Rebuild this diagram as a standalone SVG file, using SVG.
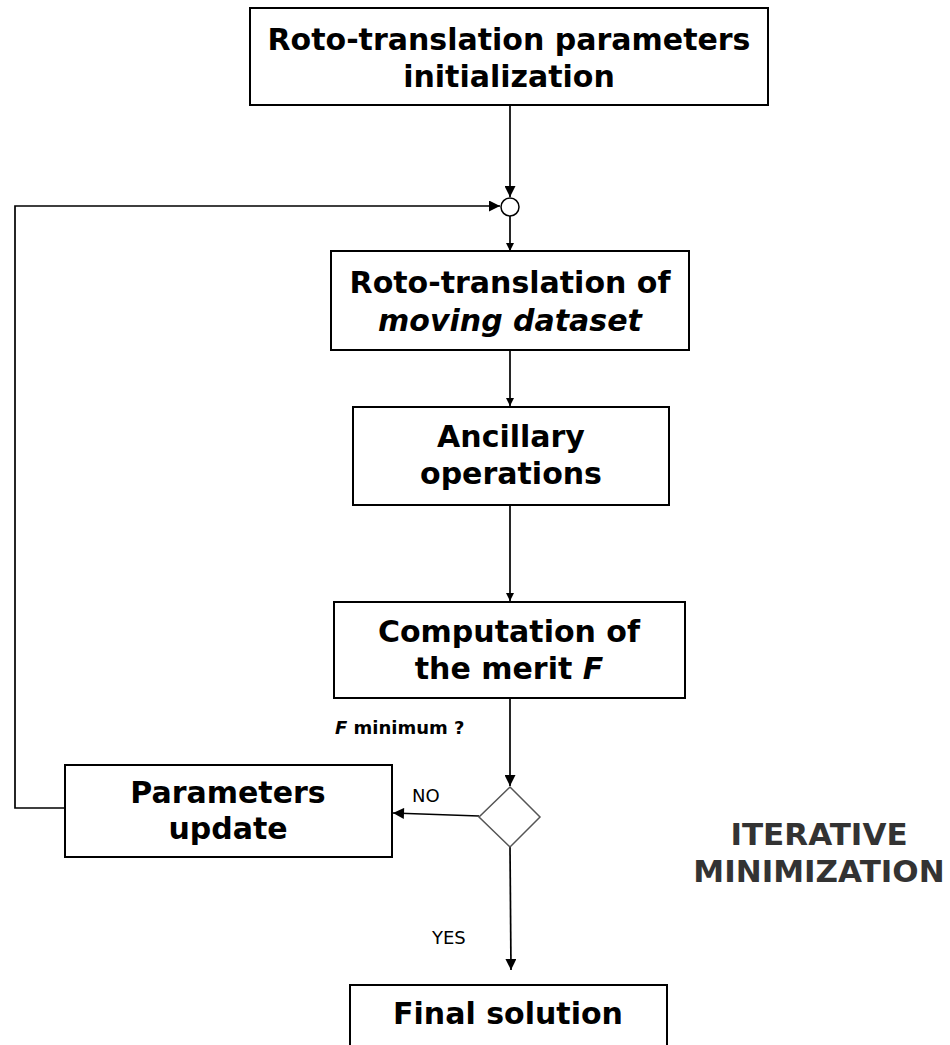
<svg xmlns="http://www.w3.org/2000/svg" width="950" height="1045" viewBox="0 0 950 1045">
<style>
.box{fill:#fff;stroke:#000;stroke-width:2}
.t{font-family:"DejaVu Sans",Verdana,sans-serif;font-weight:bold;font-size:30px;fill:#000;text-anchor:middle}
.l{fill:none;stroke:#000;stroke-width:1.7}
.lab{font-family:"DejaVu Sans",Verdana,sans-serif;font-size:18px;fill:#000}
.big{font-family:"DejaVu Sans",Verdana,sans-serif;font-weight:bold;font-size:31px;fill:#333;text-anchor:middle}
</style>
<defs>
<marker id="ah" viewBox="0 0 10 10" refX="10" refY="5" markerWidth="12" markerHeight="11" markerUnits="userSpaceOnUse" orient="auto"><path d="M0,0 L10,5 L0,10 z" fill="#000"/></marker>
<marker id="ahs" viewBox="0 0 10 10" refX="10" refY="5" markerWidth="9" markerHeight="8" markerUnits="userSpaceOnUse" orient="auto"><path d="M0,0 L10,5 L0,10 z" fill="#000"/></marker>
</defs>
<g id="connectors">
<line class="l" x1="510" y1="105" x2="510" y2="197" marker-end="url(#ah)"/>
<polyline class="l" points="65,808 15,808 15,206 500,206" marker-end="url(#ah)"/>
<line class="l" x1="510" y1="216" x2="510" y2="251" marker-end="url(#ahs)"/>
<line class="l" x1="510" y1="350" x2="510" y2="406" marker-end="url(#ahs)"/>
<line class="l" x1="510" y1="505" x2="510" y2="601" marker-end="url(#ahs)"/>
<line class="l" x1="510" y1="698" x2="510" y2="786" marker-end="url(#ah)"/>
<line class="l" x1="479" y1="816" x2="393" y2="813" marker-end="url(#ah)"/>
<line class="l" x1="510" y1="847" x2="511" y2="970" marker-end="url(#ah)"/>
<text class="lab" x="412" y="802">NO</text>
<text class="lab" x="432" y="944">YES</text>
<text x="335" y="734" style="font-family:'DejaVu Sans',Verdana,sans-serif;font-weight:bold;font-size:18px"><tspan font-style="italic">F</tspan> minimum ?</text>
</g>
<g id="n1"><rect class="box" x="250" y="8" width="518" height="97"/><text class="t" x="509" y="50">Roto-translation parameters</text><text class="t" x="509" y="87">initialization</text></g>
<g id="junction"><circle cx="510" cy="207" r="9" fill="#fff" stroke="#000" stroke-width="1.5"/></g>
<g id="n2"><rect class="box" x="331" y="251" width="358" height="99"/><text class="t" x="510" y="293">Roto-translation of</text><text class="t" x="510" y="331" font-style="italic">moving dataset</text></g>
<g id="n3"><rect class="box" x="353" y="407" width="316" height="98"/><text class="t" x="511" y="447">Ancillary</text><text class="t" x="511" y="484">operations</text></g>
<g id="n4"><rect class="box" x="334" y="602" width="351" height="96"/><text class="t" x="509" y="642">Computation of</text><text class="t" x="509" y="679">the merit <tspan font-style="italic">F</tspan></text></g>
<g id="decision"><polygon points="510,787 540,817 510,847 479,817" fill="#fff" stroke="#555" stroke-width="1.5"/></g>
<g id="n5"><rect class="box" x="65" y="765" width="327" height="92"/><text class="t" x="228" y="803">Parameters</text><text class="t" x="228" y="839">update</text></g>
<g id="n6"><rect class="box" x="350" y="985" width="317" height="70"/><text class="t" x="508" y="1024">Final solution</text></g>
<g id="note"><text class="big" x="819" y="845">ITERATIVE</text><text class="big" x="819" y="882">MINIMIZATION</text></g>
</svg>
